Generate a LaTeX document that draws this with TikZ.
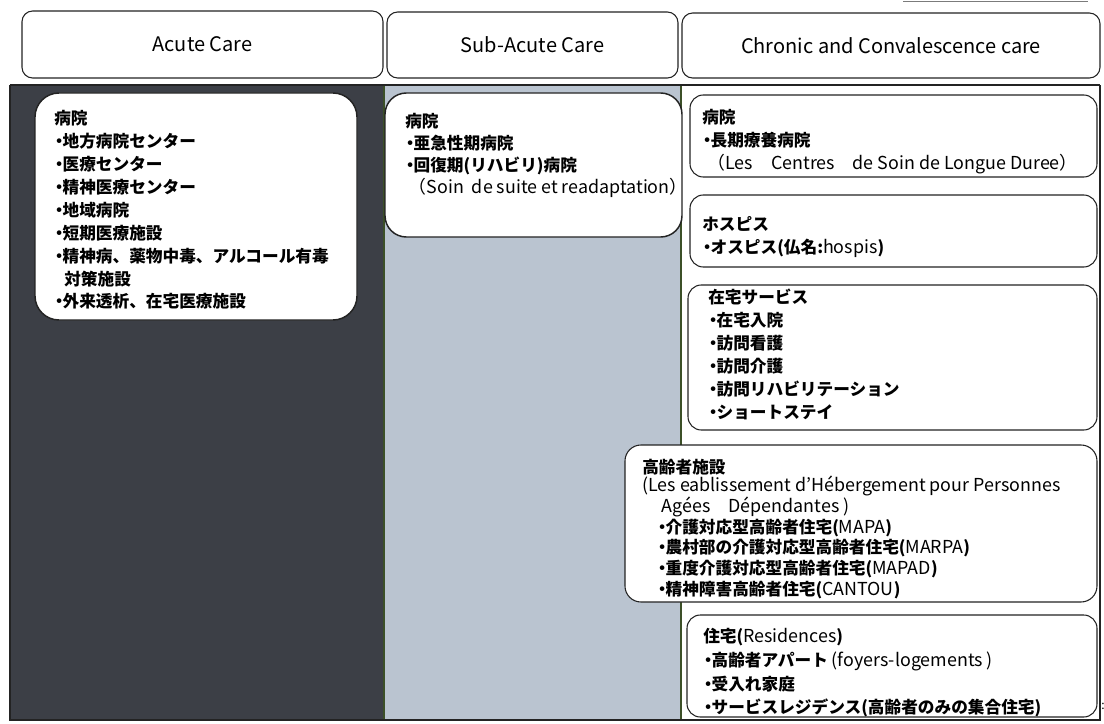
\documentclass[tikz,border=0pt]{standalone}
\usepackage{fontspec}
\setmainfont{Noto Sans CJK JP}
\usetikzlibrary{fit}
\newcommand{\latn}[1]{{\mdseries\fontsize{13.4pt}{\baselineskip}\selectfont #1}}
\newcommand{\bul}{\kern-0.2em・\kern-0.3em}
\definecolor{darkcol}{RGB}{60,63,70}
\definecolor{lightcol}{RGB}{186,196,208}
\definecolor{edge}{RGB}{35,35,35}
\definecolor{sep}{RGB}{60,80,40}
\begin{document}
\begin{tikzpicture}[x=0.75pt,y=-0.75pt,
  hdr/.style={draw=edge, line width=0.8pt, rounded corners=8pt, fill=white, inner sep=0pt},
  hdrtxt/.style={font=\fontsize{15}{18}\selectfont, text=black, inner sep=0pt},
  bigbox/.style={draw=edge, line width=1.1pt, fill=white, inner sep=0pt, rounded corners=18pt},
  rbox/.style={draw=edge, line width=0.8pt, fill=white, inner sep=0pt, rounded corners=10pt},
  body/.style={font=\bfseries\fontsize{12.5}{17.2}\selectfont, align=left, inner sep=0pt, anchor=north west},
]
\useasboundingbox (0,0) rectangle (1104,724);
% remnant line at the top right
\draw[edge!60, line width=0.8pt] (903,1.5) -- (1088,1.5);
% header boxes
\node[hdr, fit={(22,11) (383,78)}] (hA) {};
\node[hdr, fit={(387,12) (678,78)}] (hS) {};
\node[hdr, fit={(682,13) (1100,78)}] (hC) {};
\node[hdrtxt] (hAt) at (hA.center) {Acute Care};
\node[hdrtxt] (hSt) at (hS.center) {Sub-Acute Care};
\node[hdrtxt] (hCt) at (hC.center) {Chronic and Convalescence care};
% column backgrounds
\fill[darkcol] (10,85) rectangle (384,719);
\fill[lightcol] (384,85) rectangle (681,719);
\fill[white] (681,85) rectangle (1099,719);
\draw[sep, line width=0.8pt] (384,85) -- (384,719);
\draw[sep, line width=0.8pt] (681,85) -- (681,719);
\draw[edge, line width=1.4pt] (10,85) -- (1100,85);
\draw[edge, line width=1.4pt] (10,85) -- (10,720) -- (1100,720) -- (1100,85);
% acute care
\node[bigbox, fit={(35,93) (357,320)}] (acute) {};
\node[body] (acuteT) at (54,110) {病院\\
\bul 地方病院センター\\
\bul 医療センター\\
\bul 精神医療センター\\
\bul 地域病院\\
\bul 短期医療施設\\
\bul 精神病、薬物中毒、アルコール有毒\\
\hspace{0.6em}対策施設\\
\bul 外来透析、在宅医療施設};
% sub-acute care
\node[bigbox, rounded corners=16pt, fit={(385,93) (682,237)}] (sub) {};
\node[body, font=\bfseries\fontsize{12.5}{16.5}\selectfont] (subT) at (405,113) {病院\\
\bul 亜急性期病院\\
\bul 回復期(リハビリ)病院\\
\latn{\hspace{0.2em}（Soin\ \ de suite et readaptation）}};
% chronic: hospital
\node[rbox, fit={(690,95) (1097,177)}] (rH) {};
\node[body] (rHT) at (702,109) {病院\\
\bul 長期療養病院\\
\latn{\hspace{0.3em}（Les\quad Centres\quad de Soin de Longue Duree）}};
% hospice
\node[rbox, fit={(690,195) (1097,267)}] (rHos) {};
\node[body] (rHosT) at (702,216) {ホスピス\\
\bul オスピス(仏名:\latn{hospis})};
% home services
\node[rbox, fit={(688,285) (1097,430)}] (rHome) {};
\node[body] (rHomeT) at (708,289) {在宅サービス\\
\bul 在宅入院\\
\bul 訪問看護\\
\bul 訪問介護\\
\bul 訪問リハビリテーション\\
\bul ショートステイ};
% elderly facilities
\node[rbox, rounded corners=12pt, fit={(625,445) (1097,602)}] (rEld) {};
\node[body, font=\bfseries\fontsize{12.5}{15.7}\selectfont] (rEldT) at (642,459) {高齢者施設\\[-2.5pt]
\latn{(Les eablissement d’Hébergement pour Personnes}\\
\latn{\hspace{1.1em}Agées\quad Dépendantes )}\\
\hspace{0.9em}\bul 介護対応型高齢者住宅(\latn{MAPA})\\
\hspace{0.9em}\bul 農村部の介護対応型高齢者住宅(\latn{MARPA})\\
\hspace{0.9em}\bul 重度介護対応型高齢者住宅(\latn{MAPAD})\\
\hspace{0.9em}\bul 精神障害高齢者住宅(\latn{CANTOU})};
% residences
\node[rbox, fit={(687,615) (1097,717)}] (rRes) {};
\node[body, font=\bfseries\fontsize{12.5}{17.8}\selectfont] (rResT) at (703,628) {住宅(\latn{Residences})\\
\bul 高齢者アパート\latn{ (foyers-logements )}\\
\bul 受入れ家庭\\
\bul サービスレジデンス(高齢者のみの集合住宅)};
\node[font=\fontsize{9}{9}\selectfont, inner sep=0pt] (frag) at (1103,706) {:};
\end{tikzpicture}
\end{document}
